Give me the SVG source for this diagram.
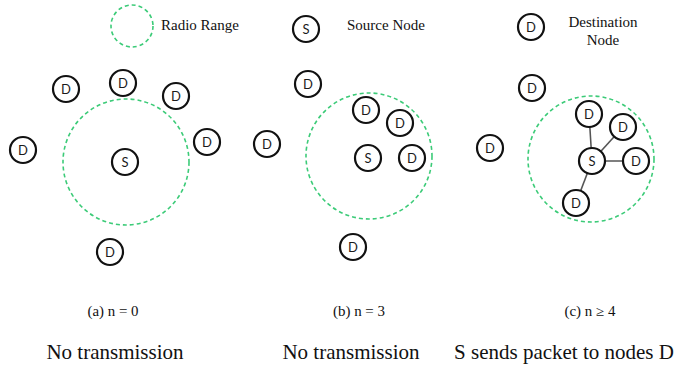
<svg xmlns="http://www.w3.org/2000/svg" width="676" height="367" viewBox="0 0 676 367">
  <style>
    .range { fill: none; stroke: #3ccb78; stroke-width: 1.6; stroke-dasharray: 4 3; }
    .node circle { fill: #ffffff; stroke: #111111; stroke-width: 2.2; }
    .node text { font-family: Lato, "Open Sans", "Liberation Sans", sans-serif; font-size: 13px; fill: #1a1a1a; text-anchor: middle; dominant-baseline: central; }
    .legend { font-family: "Liberation Serif", serif; font-size: 15px; fill: #111111; }
    .cap { font-family: "Liberation Serif", serif; font-size: 14px; fill: #111111; text-anchor: middle; }
    .note { font-family: "Liberation Serif", serif; font-size: 21px; fill: #111111; text-anchor: middle; }
    .link { stroke: #555555; stroke-width: 1.6; }
  </style>

  <!-- legend -->
  <g id="legend">
    <circle class="range" cx="132" cy="26" r="21"/>
    <text class="legend" x="161" y="30">Radio Range</text>
    <g id="legend-source" class="node"><circle cx="306" cy="29" r="13"/><text x="306" y="29">S</text></g>
    <text class="legend" x="347" y="30">Source Node</text>
    <g id="legend-dest" class="node"><circle cx="531" cy="27" r="13"/><text x="531" y="27">D</text></g>
    <text class="legend" x="603" y="27" text-anchor="middle">Destination</text>
    <text class="legend" x="603" y="45" text-anchor="middle">Node</text>
  </g>

  <!-- (a) n = 0 -->
  <g id="panel-a">
    <circle class="range" cx="126" cy="162" r="63"/>
    <g id="a-s" class="node"><circle cx="125" cy="162" r="13"/><text x="125" y="162">S</text></g>
    <g id="a-d1" class="node"><circle cx="66" cy="89" r="13"/><text x="66" y="89">D</text></g>
    <g id="a-d2" class="node"><circle cx="123" cy="83" r="13"/><text x="123" y="83">D</text></g>
    <g id="a-d3" class="node"><circle cx="176" cy="96" r="13"/><text x="176" y="96">D</text></g>
    <g id="a-d4" class="node"><circle cx="207" cy="142" r="13"/><text x="207" y="142">D</text></g>
    <g id="a-d5" class="node"><circle cx="23" cy="150" r="13"/><text x="23" y="150">D</text></g>
    <g id="a-d6" class="node"><circle cx="110" cy="252" r="13"/><text x="110" y="252">D</text></g>
    <text class="cap" x="113" y="316" textLength="51" lengthAdjust="spacingAndGlyphs">(a) n = 0</text>
    <text class="note" x="115" y="359">No transmission</text>
  </g>

  <!-- (b) n = 3 -->
  <g id="panel-b">
    <circle class="range" cx="369" cy="156" r="63"/>
    <g id="b-s" class="node"><circle cx="368" cy="158" r="13"/><text x="368" y="158">S</text></g>
    <g id="b-d1" class="node"><circle cx="308" cy="84" r="13"/><text x="308" y="84">D</text></g>
    <g id="b-d2" class="node"><circle cx="366" cy="110" r="13"/><text x="366" y="110">D</text></g>
    <g id="b-d3" class="node"><circle cx="400" cy="123" r="13"/><text x="400" y="123">D</text></g>
    <g id="b-d4" class="node"><circle cx="412" cy="158" r="13"/><text x="412" y="158">D</text></g>
    <g id="b-d5" class="node"><circle cx="267" cy="144" r="13"/><text x="267" y="144">D</text></g>
    <g id="b-d6" class="node"><circle cx="353" cy="247" r="13"/><text x="353" y="247">D</text></g>
    <text class="cap" x="359" y="316" textLength="52" lengthAdjust="spacingAndGlyphs">(b) n = 3</text>
    <text class="note" x="351" y="359">No transmission</text>
  </g>

  <!-- (c) n >= 4 -->
  <g id="panel-c">
    <circle class="range" cx="591" cy="159" r="63"/>
    <g id="connectors">
      <line class="link" x1="592" y1="161" x2="589" y2="114"/>
      <line class="link" x1="592" y1="161" x2="623" y2="127"/>
      <line class="link" x1="592" y1="161" x2="636" y2="161"/>
      <line class="link" x1="592" y1="161" x2="576" y2="203"/>
    </g>
    <g id="c-s" class="node"><circle cx="592" cy="161" r="13"/><text x="592" y="161">S</text></g>
    <g id="c-d1" class="node"><circle cx="532" cy="88" r="13"/><text x="532" y="88">D</text></g>
    <g id="c-d2" class="node"><circle cx="589" cy="114" r="13"/><text x="589" y="114">D</text></g>
    <g id="c-d3" class="node"><circle cx="623" cy="127" r="13"/><text x="623" y="127">D</text></g>
    <g id="c-d4" class="node"><circle cx="636" cy="161" r="13"/><text x="636" y="161">D</text></g>
    <g id="c-d5" class="node"><circle cx="576" cy="203" r="13"/><text x="576" y="203">D</text></g>
    <g id="c-d6" class="node"><circle cx="490" cy="148" r="13"/><text x="490" y="148">D</text></g>
    <text class="cap" x="590" y="316" textLength="51" lengthAdjust="spacingAndGlyphs">(c) n ≥ 4</text>
    <text class="note" x="564" y="359">S sends packet to nodes D</text>
  </g>
</svg>
